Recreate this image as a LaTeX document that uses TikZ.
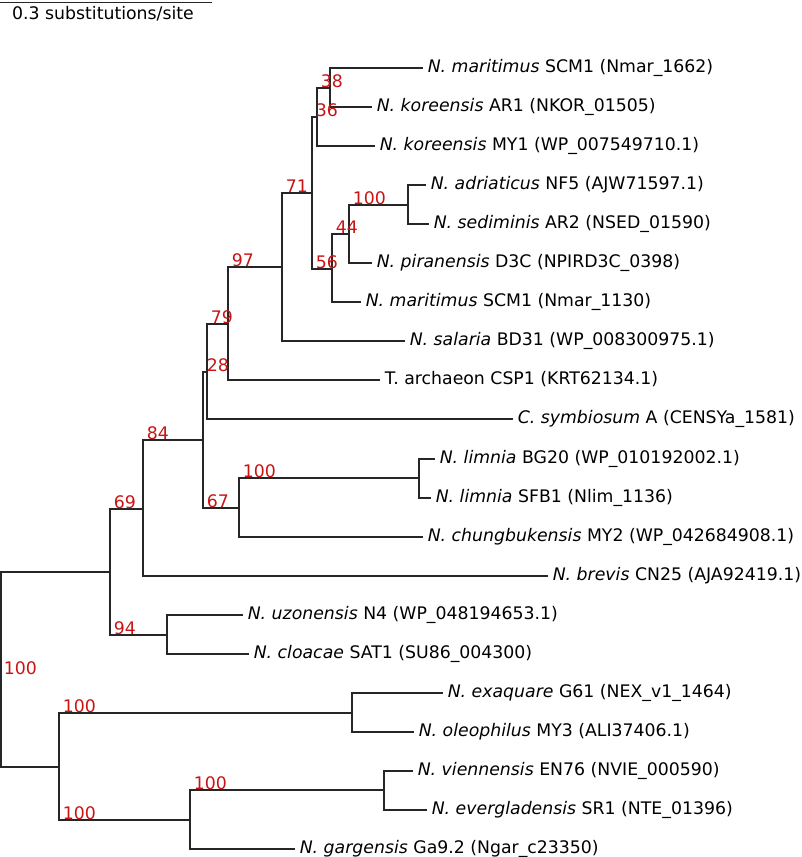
\documentclass[tikz,border=0pt]{standalone}
\usepackage{fontspec}
\setmainfont{DejaVu Sans}
\usepackage{tikz}
\usetikzlibrary{calc}
\definecolor{suppred}{RGB}{200,20,20}
\def\leafsep{39.05}

\begin{document}
\begin{tikzpicture}[x=1pt,y=-1pt,line width=1.6pt,draw=black!85]
    \tikzstyle{branch}=[to path={|- (\tikztotarget)}]
    \tikzstyle{leaf}=[anchor=base west,inner xsep=4pt,inner ysep=0pt,yshift=-4pt,font=\fontsize{17.3}{20}\selectfont]
    \tikzstyle{support}=[anchor=base west,inner xsep=3pt,inner ysep=0pt,yshift=0.5pt,text=suppred,font=\fontsize{17.3}{20}\selectfont]
    \useasboundingbox (0,0) rectangle (802,857);

    % Scale bar
    \coordinate (S-1) at (0,2);
    \coordinate (S-2) at (212,2);
    \draw[line width=1pt] (S-1) -- (S-2);
    \node[anchor=base,inner sep=0pt,font=\fontsize{17.3}{20}\selectfont] (scale) at (103,19) {0.3 substitutions/site};

    % Draw the leaves (branch tip and name)
    \foreach \name / \x / \txt in {
        1/423/{\textit{N. maritimus} SCM1 (Nmar\_1662)},
        2/372/{\textit{N. koreensis} AR1 (NKOR\_01505)},
        3/375/{\textit{N. koreensis} MY1 (WP\_007549710.1)},
        4/426/{\textit{N. adriaticus} NF5 (AJW71597.1)},
        5/429/{\textit{N. sediminis} AR2 (NSED\_01590)},
        6/372/{\textit{N. piranensis} D3C (NPIRD3C\_0398)},
        7/361/{\textit{N. maritimus} SCM1 (Nmar\_1130)},
        8/405/{\textit{N. salaria} BD31 (WP\_008300975.1)},
        9/380/{T. archaeon CSP1 (KRT62134.1)},
        10/513/{\textit{C. symbiosum} A (CENSYa\_1581)},
        11/435/{\textit{N. limnia} BG20 (WP\_010192002.1)},
        12/431/{\textit{N. limnia} SFB1 (Nlim\_1136)},
        13/423/{\textit{N. chungbukensis} MY2 (WP\_042684908.1)},
        14/548/{\textit{N. brevis} CN25 (AJA92419.1)},
        15/243/{\textit{N. uzonensis} N4 (WP\_048194653.1)},
        16/249/{\textit{N. cloacae} SAT1 (SU86\_004300)},
        17/443/{\textit{N. exaquare} G61 (NEX\_v1\_1464)},
        18/414/{\textit{N. oleophilus} MY3 (ALI37406.1)},
        19/413/{\textit{N. viennensis} EN76 (NVIE\_000590)},
        20/427/{\textit{N. evergladensis} SR1 (NTE\_01396)},
        21/295/{\textit{N. gargensis} Ga9.2 (Ngar\_c23350)}}
    {
        \coordinate (E-\name) at (\x,{round(68+\leafsep*(\name-1))});
        \node[leaf] (L-\name) at (E-\name) {\txt};
    }

    % Draw the inner nodes
    \coordinate (N-1) at (330,88);
    \coordinate (N-2) at (317,117);
    \coordinate (N-3) at (408,205);
    \coordinate (N-4) at (349,234);
    \coordinate (N-5) at (332,269);
    \coordinate (N-6) at (312,193);
    \coordinate (N-7) at (282,267);
    \coordinate (N-8) at (228,324);
    \coordinate (N-9) at (207,372);
    \coordinate (N-10) at (419,478);
    \coordinate (N-11) at (239,508);
    \coordinate (N-12) at (203,440);
    \coordinate (N-13) at (143,509);
    \coordinate (N-14) at (167,635);
    \coordinate (N-15) at (110,572);
    \coordinate (N-16) at (352,713);
    \coordinate (N-17) at (384,790);
    \coordinate (N-18) at (190,820);
    \coordinate (N-19) at (59,767);
    \coordinate (root) at (1,669);

    % Connect every parent with its children
    \foreach \source / \dest in {N-1/E-1, N-1/E-2, N-2/N-1, N-2/E-3,
            N-3/E-4, N-3/E-5, N-4/N-3, N-4/E-6, N-5/N-4, N-5/E-7,
            N-6/N-2, N-6/N-5, N-7/N-6, N-7/E-8, N-8/N-7, N-8/E-9,
            N-9/N-8, N-9/E-10, N-10/E-11, N-10/E-12, N-11/N-10, N-11/E-13,
            N-12/N-9, N-12/N-11, N-13/N-12, N-13/E-14, N-14/E-15, N-14/E-16,
            N-15/N-13, N-15/N-14, N-16/E-17, N-16/E-18, N-17/E-19, N-17/E-20,
            N-18/N-17, N-18/E-21, N-19/N-16, N-19/N-18, root/N-15, root/N-19}
        \path (\source) edge[branch] (\dest);

    % Annotate the support values
    \foreach \parent / \child / \val in {N-2/N-1/38, N-6/N-2/36, N-7/N-6/71,
            N-8/N-7/97, N-4/N-3/100, N-5/N-4/44, N-6/N-5/56, N-9/N-8/79,
            N-12/N-9/28, N-15/N-13/69, N-13/N-12/84, N-11/N-10/100,
            N-12/N-11/67, N-15/N-14/94, N-19/N-16/100, N-19/N-18/100,
            N-18/N-17/100}
        \node[support] (B-\child) at (\parent |- \child) {\val};
    \node[support,anchor=west,yshift=0pt,inner xsep=2pt] (B-root) at (root) {100};
\end{tikzpicture}
\end{document}
